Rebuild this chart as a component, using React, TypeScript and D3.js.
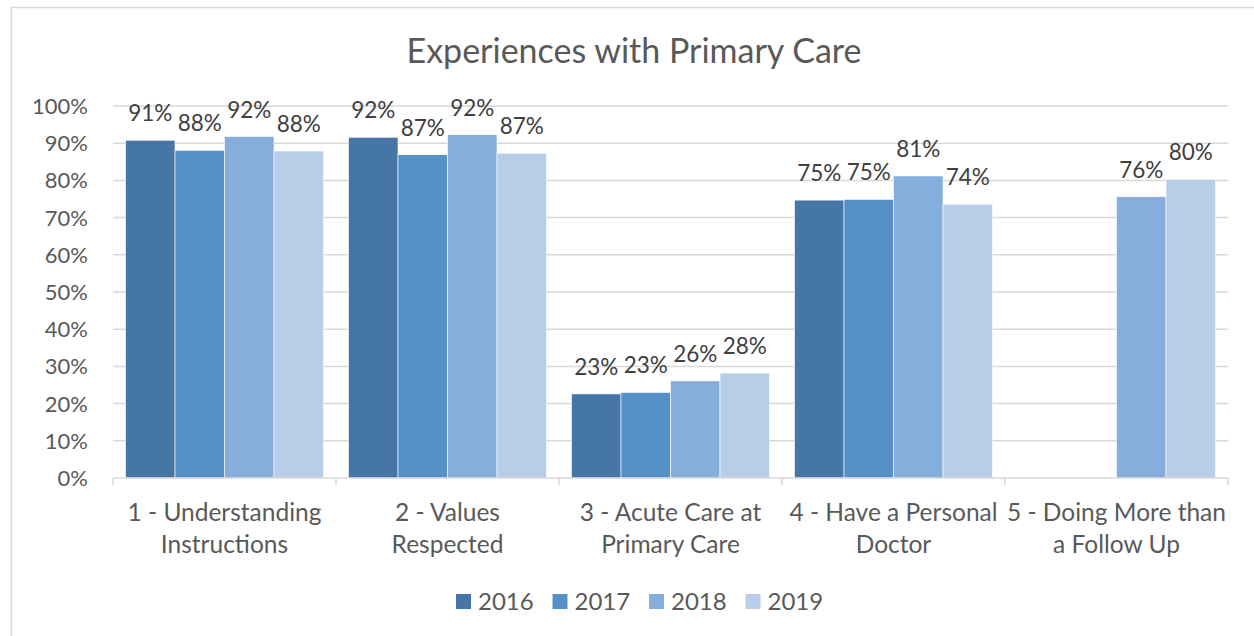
import React from 'react';
import * as d3 from 'd3';

const categories = [
  ['1 - Understanding', 'Instructions'],
  ['2 - Values', 'Respected'],
  ['3 - Acute Care at', 'Primary Care'],
  ['4 - Have a Personal', 'Doctor'],
  ['5 - Doing More than', 'a Follow Up'],
];
const years = ['2016', '2017', '2018', '2019'];
const v2016 = [90.8, 91.6, 22.6, 74.7, null];
const v2017 = [88.1, 86.9, 23.0, 74.9, null];
const v2018 = [91.8, 92.3, 26.1, 81.2, 75.6];
const v2019 = [87.9, 87.3, 28.2, 73.6, 80.3];
const yTicks = [0, 10, 20, 30, 40, 50, 60, 70, 80, 90, 100];
const colors = ['#4676A6', '#5591C8', '#85AEDC', '#B8CDE8'];

const W = 1254;
const H = 636;
const FONT = 'Lato, "Open Sans", sans-serif';

export default function App() {
  const series = [v2016, v2017, v2018, v2019];
  const x0 = d3.scaleBand<number>().domain(d3.range(categories.length)).range([113, 1228]).paddingInner(0).paddingOuter(0);
  const x1 = d3.scaleBand<number>().domain(d3.range(years.length)).range([12.5, x0.bandwidth() - 12.5]);
  const y = d3.scaleLinear().domain([0, 100]).range([478, 106]);

  return (
    <svg width={W} height={H} style={{ position: 'absolute', left: 0, top: 0, fontFamily: FONT }}>
      <rect x={0} y={0} width={W} height={H} fill="#fff" />
      <rect x={11.5} y={7.5} width={W + 20} height={H + 20} fill="#fff" stroke="#d9d9d9" strokeWidth={1.5} />
      <text x={634} y={63} textAnchor="middle" fontSize={34} fill="#595959">Experiences with Primary Care</text>

      {yTicks.map(t => (
        <g key={t}>
          {t > 0 && <line x1={113} x2={1228} y1={y(t)} y2={y(t)} stroke="#d9d9d9" strokeWidth={1.5} />}
          <text x={88} y={y(t) + 8} textAnchor="end" fontSize={22} fill="#595959">{t}%</text>
        </g>
      ))}

      {series.map((vals, si) => vals.map((v, ci) => {
        if (v == null) return null;
        const bx = (x0(ci) ?? 0) + (x1(si) ?? 0);
        const bw = x1.bandwidth();
        return (
          <g key={`${si}-${ci}`}>
            <rect x={bx} y={y(v)} width={bw} height={y(0) - y(v)} fill={colors[si]} stroke="#fff" strokeWidth={0.6} />
            <text x={bx + bw / 2} y={y(v) - 19} textAnchor="middle" fontSize={22.5} fill="#404040">{Math.round(v)}%</text>
          </g>
        );
      }))}

      <line x1={113} x2={1228} y1={478} y2={478} stroke="#d9d9d9" strokeWidth={1.5} />
      {d3.range(categories.length + 1).map(i => {
        const tx = i < categories.length ? (x0(i) ?? 0) : 1228;
        return <line key={i} x1={tx} x2={tx} y1={478} y2={485} stroke="#d9d9d9" strokeWidth={1.5} />;
      })}
      {categories.map((c, i) => (
        <text key={i} textAnchor="middle" fontSize={24.5} fill="#595959">
          {c.map((ln, j) => (
            <tspan key={j} x={(x0(i) ?? 0) + x0.bandwidth() / 2} y={521 + j * 32}>{ln}</tspan>
          ))}
        </text>
      ))}

      {years.map((yr, i) => {
        const lx = 456 + i * 96.5;
        return (
          <g key={yr}>
            <rect x={lx} y={594} width={15} height={15} fill={colors[i]} />
            <text x={lx + 22} y={610} fontSize={24} fill="#595959">{yr}</text>
          </g>
        );
      })}
    </svg>
  );
}
